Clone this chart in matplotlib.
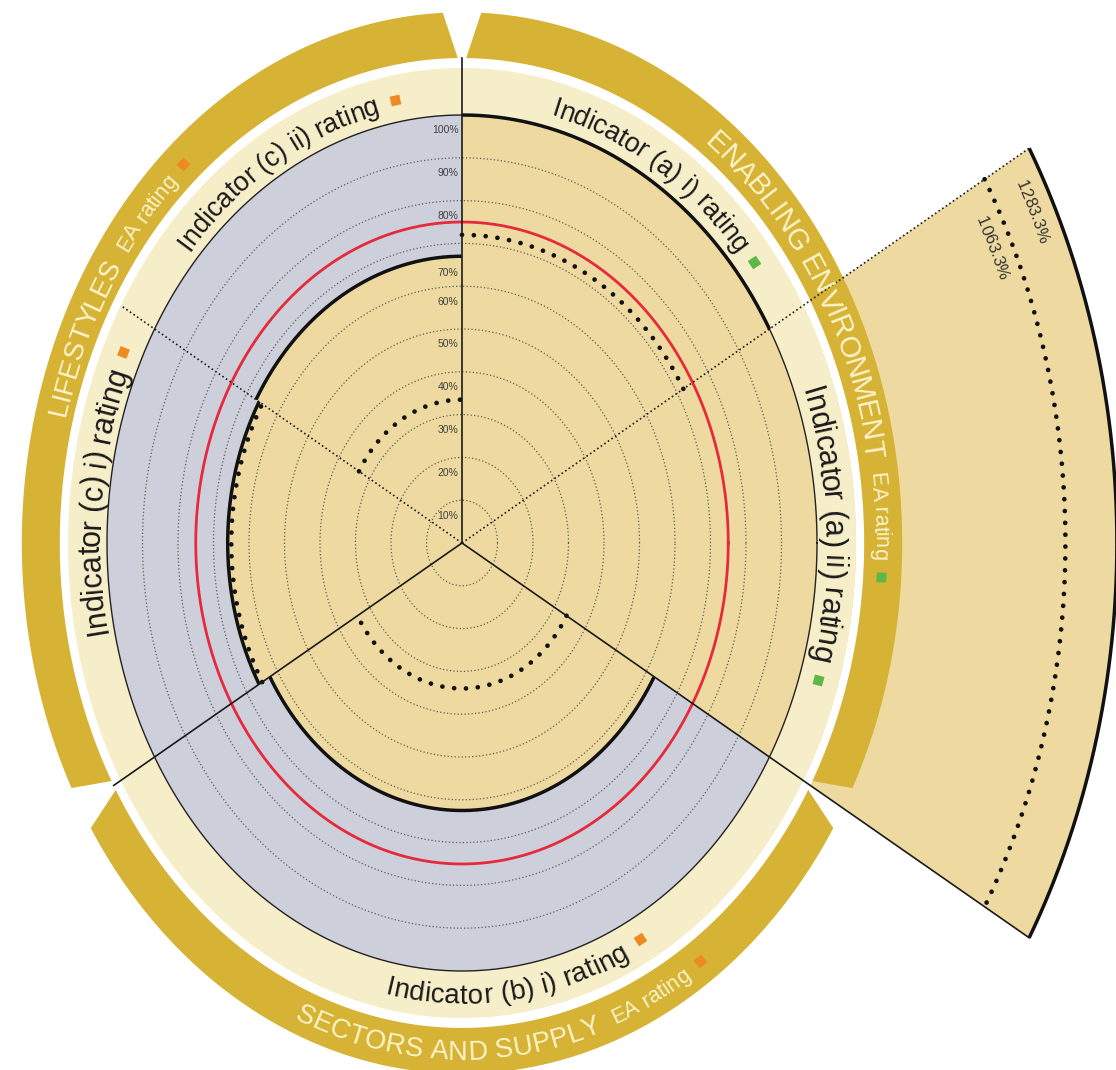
import numpy as np
import matplotlib
matplotlib.use('Agg')
import matplotlib.pyplot as plt
from matplotlib.patches import Wedge, Polygon
from matplotlib.font_manager import FontProperties, findfont, get_font

### data ###
indicators = ['(a) i)', '(a) ii)', '(b) i)', '(c) i)', '(c) ii)']
sector_weight = [1, 1, 2, 1, 1]          # (b) i) gets a double sector
values = [100.0, 1283.3, 62.5, 66.0, 67.0]
previous = [72.0, 1063.3, 34.0, 65.0, 33.5]
indicator_rating = ['green', 'green', 'orange', 'orange', 'orange']
target = 75.0
ring_ticks = [10, 20, 30, 40, 50, 60, 70, 80, 90, 100]
ring_labels = ['10%', '20%', '30%', '40%', '50%', '60%', '70%', '80%', '90%', '100%']
groups = ['ENABLING ENVIRONMENT', 'SECTORS AND SUPPLY', 'LIFESTYLES']
group_members = [[0, 1], [2], [3, 4]]
group_rating = ['green', 'orange', 'orange']

### styling ###
TAN = '#EEDAA0'
GREY = '#CDD0DB'
CREAM = '#F6EDC9'
GOLD = '#D6B335'
RED = '#E42A3B'
GOLDTXT = '#FBF3CB'
RATING_COL = {'green': '#5DB847', 'orange': '#EE8A22'}
FONT = ['Liberation Sans', 'DejaVu Sans']

W, H = 1116, 1070
CX, CY = 462, 543
PXX, PXY = 3.55, 4.28   # pixels per data unit (picture is squashed horizontally)

R_IN = 100.0            # 100 % ring
R_CREAM = 111.0
R_GOLD0 = 113.3
R_GOLD1 = 124.0


def radius(v):
    # values above 100 % are drawn on a compressed scale
    return v if v <= 100 else 106.5 + 0.0659 * (v - 100)


def arc(r, t0, t1, n=300):
    t = np.radians(np.linspace(t0, t1, n))
    return r * np.cos(t), r * np.sin(t)


def advances(s, size):
    font = get_font(findfont(FontProperties(family=FONT)))
    font.set_size(size, 100)
    return np.array([font.load_char(ord(c)).linearHoriAdvance / 65536 for c in s])


def arc_table(r, t0, d):
    # arc length in pixels, measured from angle t0 in direction d
    th = np.radians(t0 + d * np.linspace(-120, 240, 6000))
    step = np.radians(360 / 5999)
    ds = r * np.hypot(PXX * np.sin(th), PXY * np.cos(th)) * step
    cum = np.concatenate([[0], np.cumsum(ds[:-1])])
    cum -= np.interp(np.radians(t0), th if d > 0 else th[::-1],
                     cum if d > 0 else cum[::-1])
    return th, cum


def arc_run(ax, items, r, t_a, t_b, d, color):
    """Lay text pieces and rating squares along an arc, centred between t_a and t_b."""
    th, cum = arc_table(r, t_a, d)
    pos_b = np.interp(np.radians(t_b), th if d > 0 else th[::-1], cum if d > 0 else cum[::-1])
    widths = []
    for it in items:
        if it[0] == 'text':
            widths.append(advances(it[1], it[2]))
        elif it[0] == 'gap':
            widths.append(np.array([it[1]]))
        else:
            widths.append(np.array([10.0]))
    total = sum(w.sum() for w in widths)
    s = pos_b / 2 - total / 2
    for it, w in zip(items, widths):
        if it[0] == 'text':
            centers = s + np.cumsum(w) - w / 2
            for ch, c in zip(it[1], centers):
                if ch == ' ':
                    continue
                a = np.interp(c, cum, th)
                rot = np.degrees(np.arctan2(np.cos(a) * d * PXY, -np.sin(a) * d * PXX))
                ax.text(r * np.cos(a), r * np.sin(a), ch, rotation=rot, rotation_mode='anchor',
                        ha='center', va='center_baseline', fontsize=it[2], family=FONT,
                        color=color, zorder=20)
        elif it[0] == 'square':
            a = np.interp(s + 5, cum, th)
            rot = np.degrees(np.arctan2(np.cos(a) * d * PXY, -np.sin(a) * d * PXX))
            ax.plot(r * np.cos(a), r * np.sin(a), marker=(4, 0, 45 + rot), ms=10,
                    color=RATING_COL[it[1]], mec='none', zorder=21)
        s += w.sum()


fig = plt.figure(figsize=(W / 100, H / 100), dpi=100)
ax = fig.add_axes([0, 0, 1, 1])
ax.set_xlim(-CX / PXX, (W - CX) / PXX)
ax.set_ylim(-(H - CY) / PXY, CY / PXY)
ax.axis('off')

# sector angles, clockwise from the top
edges = [90.0]
for w in sector_weight:
    edges.append(edges[-1] - 60.0 * w)
sectors = [(edges[i], edges[i + 1]) for i in range(len(indicators))]

# out-of-scale wedge for (a) ii)
big = [i for i, v in enumerate(values) if v > 100]
for i in big:
    t0, t1 = sectors[i]
    ax.add_patch(Wedge((0, 0), radius(values[i]), t1, t0, color=TAN, lw=0, zorder=1))

# outer rings
ax.add_patch(Wedge((0, 0), R_GOLD0, 0, 360, width=R_GOLD0 - R_CREAM, color='white', lw=0, zorder=2))
ax.add_patch(Wedge((0, 0), R_CREAM, 0, 360, width=R_CREAM - R_IN, color=CREAM, lw=0, zorder=2))

# gold group bands with v-shaped gaps
for members in group_members:
    t_hi = sectors[members[0]][0]
    t_lo = sectors[members[-1]][1]
    di, do = 0.6, 2.5
    xi, yi = arc(R_GOLD0, t_hi - di, t_lo + di)
    xo, yo = arc(R_GOLD1, t_lo + do, t_hi - do)
    ax.add_patch(Polygon(np.column_stack([np.r_[xi, xo], np.r_[yi, yo]]),
                         closed=True, color=GOLD, lw=0, zorder=3))

# value fills
for i, (t0, t1) in enumerate(sectors):
    v = min(values[i], 100)
    ax.add_patch(Wedge((0, 0), v, t1, t0, color=TAN, lw=0, zorder=4))
    if v < 100:
        ax.add_patch(Wedge((0, 0), 100, t1, t0, width=100 - v, color=GREY, lw=0, zorder=4))

# dotted scale rings
for k in ring_ticks[:-1]:
    x, y = arc(k, 0, 360, 600)
    ax.plot(x, y, color='#5f5c55', lw=0.9, ls=(0, (1, 1.8)), zorder=5)

# target circle and 100 % circle
x, y = arc(target, 0, 360, 600)
ax.plot(x, y, color=RED, lw=2.0, zorder=7)
x, y = arc(R_IN, 0, 360, 600)
ax.plot(x, y, color='#222222', lw=1.0, zorder=7)

# value arcs and previous values
for i, (t0, t1) in enumerate(sectors):
    x, y = arc(radius(values[i]), t0, t1)
    ax.plot(x, y, color='#111111', lw=2.5, solid_capstyle='butt', zorder=8)
    x, y = arc(radius(previous[i]), t0, t1)
    ax.plot(x, y, color='#111111', lw=3.4, ls=(0, (0.01, 2.5)),
            dash_capstyle='round', zorder=9)

# radial separators
solid_edges = {90: R_GOLD0, -30: radius(max(values)), -150: R_GOLD0}
dotted_edges = {30: radius(max(values)), 150: R_CREAM}
for t, r in solid_edges.items():
    x = np.array([0, r * np.cos(np.radians(t))])
    y = np.array([0, r * np.sin(np.radians(t))])
    ax.plot(x, y, color='#1a1a1a', lw=1.2, zorder=10)
for t, r in dotted_edges.items():
    x = np.array([0, r * np.cos(np.radians(t))])
    y = np.array([0, r * np.sin(np.radians(t))])
    ax.plot(x, y, color='#1a1a1a', lw=1.2, ls=(0, (1, 1.6)), zorder=10)

# percentage labels along the vertical axis
for k, lab in zip(ring_ticks, ring_labels):
    off = 7.0 if k == 70 else 3.6
    ax.text(-1.0, k - off, lab, ha='right', va='center', fontsize=7.5,
            family=FONT, color='#3f3f3f', zorder=11)

# out-of-scale value labels
for i in big:
    arc_run(ax, [('text', f'{values[i]:.1f}%', 12)], 178.8, 29.5, 22.0, -1, '#333333')
    arc_run(ax, [('text', f'{previous[i]:.1f}%', 12)], 165.0, 28.5, 21.0, -1, '#333333')

# indicator labels: (first angle, square angle, direction, font size)
ind_pos = [(76.6, 38.2, -1, 19.5), (21.2, -18.2, -1, 22),
           (259.5, 297.1, 1, 20), (190.3, 156.8, -1, 22),
           (138.2, 101.2, -1, 19.5)]
for name, rating, (a0, a1, d, fs) in zip(indicators, indicator_rating, ind_pos):
    arc_run(ax, [('text', f'Indicator {name} rating', fs), ('gap', 12), ('square', rating)],
            105.3, a0, a1 + d * 1.0, d, '#1a1a1a')

# group labels on the gold band: (first angle, square angle, direction, font size)
grp_pos = [(56.2, -5.7, -1, 21), (247.6, 303.6, 1, 19.5), (166.3, 130.9, -1, 20)]
for name, rating, (a0, a1, d, fs) in zip(groups, group_rating, grp_pos):
    arc_run(ax, [('text', name, fs), ('gap', 14), ('text', 'EA rating', 15.5),
                 ('gap', 12), ('square', rating)],
            118.4, a0, a1 + d * 1.0, d, GOLDTXT)

fig.savefig('out.png', dpi=100, facecolor='white')
